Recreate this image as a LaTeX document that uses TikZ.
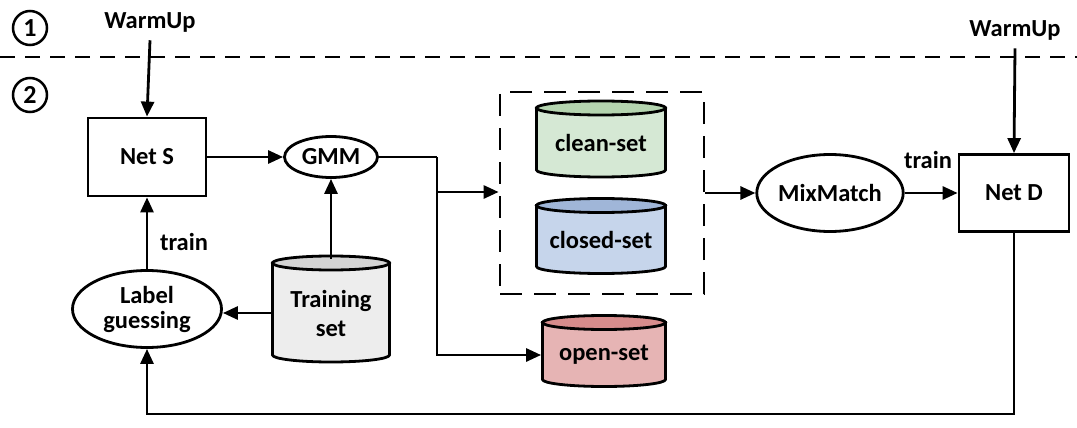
\documentclass[tikz,border=0pt]{standalone}
\usepackage{fontspec}
\setmainfont{Carlito}
\usetikzlibrary{arrows.meta,shapes.geometric}
\definecolor{trainbody}{HTML}{EDEDED}
\definecolor{trainend}{HTML}{D4D4D4}
\definecolor{cleanbody}{HTML}{D5E8D4}
\definecolor{cleanend}{HTML}{B4D4AF}
\definecolor{closedbody}{HTML}{C6D5EB}
\definecolor{closedend}{HTML}{A0B6D8}
\definecolor{openbody}{HTML}{E6B4B4}
\definecolor{openend}{HTML}{D78C8C}
\newcommand\mycyl[8]{%
  \draw[fill=#6] ({#2-#4/2},{#3-#5/2+7}) -- ({#2-#4/2},{#3+#5/2-7})
     arc[start angle=180,end angle=360,x radius={#4/2*1pt},y radius=7pt]
     -- ({#2+#4/2},{#3-#5/2+7}) -- cycle;
  \draw[fill=#7] (#2,{#3-#5/2+7}) ellipse[x radius={#4/2*1pt},y radius=7pt];
  \node[minimum width=#4pt,minimum height=#5pt,inner sep=0pt,align=center] (#1) at (#2,{#3+4}) {#8};
}
\begin{document}
\begin{tikzpicture}[x=1pt,y=-1pt,line width=2.8pt,
  >={Triangle[length=15pt,width=13pt]},
  font=\fontsize{24.5}{27}\selectfont\bfseries,
  box/.style={draw,rectangle,inner sep=0pt},
  oval/.style={draw,ellipse,inner sep=0pt,align=center},
  lbl/.style={inner sep=2pt},
  numcirc/.style={draw,circle,minimum size=34pt,inner sep=0pt,line width=2.5pt,font=\fontsize{26}{26}\selectfont\bfseries}]
\useasboundingbox (0,0) rectangle (1077,428);

% separator
\coordinate (sepL) at (0,57);
\coordinate (sepR) at (1077,57);
\draw[line width=2.2pt,dash pattern=on 15pt off 10pt] (sepL) -- (sepR);

\node[numcirc] (n1) at (30,28) {1};
\node[numcirc] (n2) at (30,95) {2};

\node[lbl] (warmL) at (150,22) {WarmUp};
\node[lbl] (warmR) at (1015,30) {WarmUp};

\node[box,minimum width=118pt,minimum height=78pt] (NetS) at (147,157) {Net S};
\node[oval,minimum width=93pt,minimum height=41pt] (GMM) at (331,157) {GMM};
\node[oval,minimum width=149pt,minimum height=77pt,align=center] (Label) at (147,309) {Label\\[-2pt]guessing};

\mycyl{Train}{331}{309}{117}{106}{trainbody}{trainend}{Training\\[2pt]set}
\mycyl{clean}{601}{139}{129}{76}{cleanbody}{cleanend}{clean-set}
\mycyl{closed}{601}{236}{129}{75}{closedbody}{closedend}{closed-set}
\mycyl{open}{604}{351}{123}{71}{openbody}{openend}{open-set}

\node[draw,rectangle,dash pattern=on 22pt off 12pt,minimum width=204pt,minimum height=202pt] (dbox) at (602,193) {};

\node[oval,minimum width=146pt,minimum height=77pt] (Mix) at (830,193) {MixMatch};
\node[box,minimum width=110pt,minimum height=77pt] (NetD) at (1014,193) {Net D};

\node[lbl] (tr1) at (184,242) {train};
\node[lbl] (tr2) at (928,160) {train};

% connectors
\draw[->] ([yshift=-5pt]warmL.south) -- (NetS.north);
\draw[->] ([yshift=-5pt]warmR.south) -- (NetD.north);
\draw[->] (NetS) -- (GMM);
\draw[->] (Train.north) -- (GMM.south);
\draw[->] (Train.west) -- (Train.west -| Label.east);
\draw[->] (Label) -- (NetS);
\coordinate (j1) at (437,157);
\coordinate (j2) at (437,192);
\draw (GMM.east) -- (j1);
\draw[->] (j1) -- (j1 |- open.west) -- (open.west);
\draw[->] (j2) -- (j2 -| dbox.west);
\draw[->] (dbox.east |- Mix) -- (Mix);
\draw[->] (Mix) -- (NetD);
\coordinate (c1) at (1014,414);
\coordinate (c2) at (147,414);
\draw[->] (NetD.south) -- (c1) -- (c2) -- (Label.south);
\end{tikzpicture}
\end{document}
